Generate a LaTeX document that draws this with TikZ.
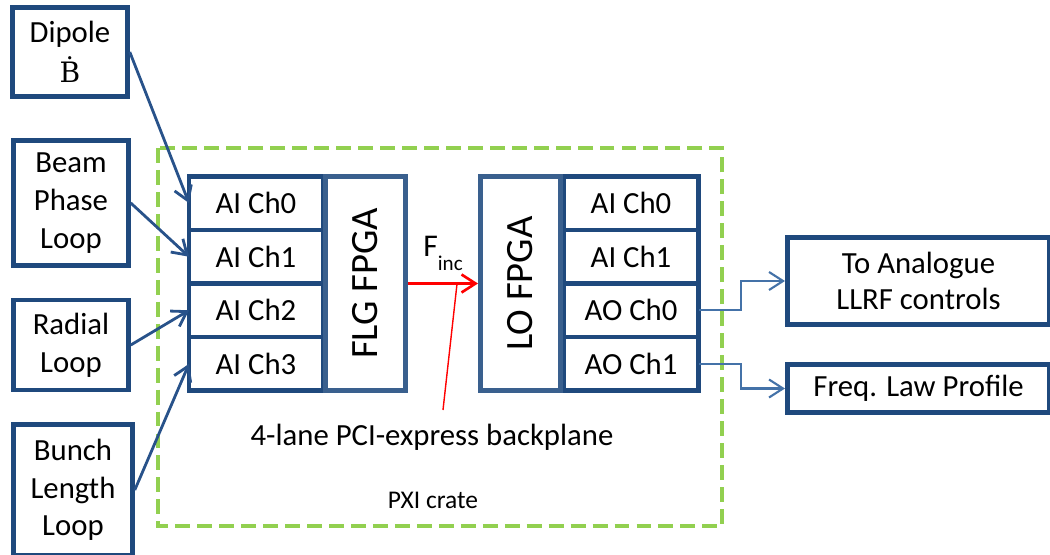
\documentclass[tikz,border=0pt]{standalone}
\usepackage{fontspec}
\setmainfont{Carlito}
\newfontfamily\bdotfont{DejaVu Serif}
\usetikzlibrary{arrows.meta,positioning}

\definecolor{boxblue}{RGB}{31,73,125}
\definecolor{fpgablue}{RGB}{58,96,142}
\definecolor{inwire}{RGB}{40,82,138}
\definecolor{outwire}{RGB}{68,114,168}
\definecolor{crategreen}{RGB}{146,208,80}

\tikzset{
  src/.style={draw=boxblue, line width=2.6pt, align=center, inner sep=0pt,
    minimum width=2.3cm, font=\fontsize{17.5}{21.5}\selectfont},
  chan/.style={draw=boxblue, line width=2.6pt, outer sep=0pt, inner sep=0pt,
    minimum width=2.68cm, minimum height=1.072cm, font=\fontsize{17.5}{20}\selectfont},
  fpga/.style={draw=fpgablue, fill=white, line width=2.6pt, rotate=90, inner sep=0pt,
    minimum width=4.29cm, minimum height=1.61cm, font=\fontsize{22}{26}\selectfont},
  dest/.style={draw=boxblue, line width=2.6pt, align=center, inner sep=0pt,
    minimum width=5.25cm, font=\fontsize{17.5}{20.5}\selectfont},
  feed/.style={->, draw=inwire, line width=1.6pt},
  lead/.style={->, draw=outwire, line width=1.2pt},
  crate/.style={draw=crategreen, line width=2pt, dash pattern=on 8.5pt off 4pt}
}

\begin{document}
\begin{tikzpicture}[x=0.02cm, y=-0.02cm, >={Straight Barb[length=2.8mm,width=3.6mm]}]
    \useasboundingbox (0,0) rectangle (1050,554);
    \clip (0,0) rectangle (1050,554);

    % PXI crate
    \draw [crate] (158,148) rectangle (722,526);

    % Signal sources
    \node [src, minimum height=1.78cm] (dipole) at (70,52)
        {Dipole\\[1pt] {\bdotfont\fontsize{16}{19}\selectfont Ḃ}};
    \node [src, minimum height=2.5cm]  (bpl)    at (71,203) {Beam\\Phase\\Loop};
    \node [src, minimum height=1.8cm]  (radial) at (71,345) {Radial\\Loop};
    \node [src, minimum height=2.62cm, minimum width=2.38cm] (bll) at (73,490) {Bunch\\Length\\Loop};

    % FLG side
    \node [chan] (ai0) at (256,203.1) {AI Ch0};
    \node [chan, below=0pt of ai0] (ai1) {AI Ch1};
    \node [chan, below=0pt of ai1] (ai2) {AI Ch2};
    \node [chan, below=0pt of ai2] (ai3) {AI Ch3};
    \node [fpga] (flg) at (365.5,283.5) {FLG FPGA};

    % LO side
    \node [chan, minimum width=2.71cm] (lai0) at (631,203.1) {AI Ch0};
    \node [chan, minimum width=2.71cm, below=0pt of lai0] (lai1) {AI Ch1};
    \node [chan, minimum width=2.71cm, below=0pt of lai1] (ao0)  {AO Ch0};
    \node [chan, minimum width=2.71cm, below=0pt of ao0]  (ao1)  {AO Ch1};
    \node [fpga] (lo) at (520.5,283.5) {LO FPGA};

    % Outputs
    \node [dest, minimum height=1.75cm] (llrf) at (918.5,281)   {To Analogue\\LLRF controls};
    \node [dest, minimum height=0.97cm] (law)  at (918.5,388.5) {Freq. Law Profile};

    % Labels
    \node [font=\fontsize{17.5}{20}\selectfont] (bp)  at (432,437) {4-lane PCI-express backplane};
    \node [font=\fontsize{14.5}{17}\selectfont] (pxi) at (433,500) {PXI crate};
    \coordinate (tip)  at (457,284);
    \coordinate (foot) at (443,410);

    % Paths
    \draw [feed] (dipole.east) -- (ai0.west);
    \draw [feed] (bpl.east)    -- (ai1.west);
    \draw [feed] (radial.east) -- (ai2.west);
    \draw [feed] (bll.east)    -- (ai3.west);

    \draw [->, red, line width=1.5pt] (flg) -- (lo)
        node [midway, above=3pt, text=black, font=\fontsize{18}{20}\selectfont]
        {F\raisebox{-0.45em}{\fontsize{12}{13}\selectfont inc}};
    \draw [red, line width=0.8pt] (foot) -- (tip);

    \draw [lead] (ao0.east) -- ++(42,0) |- (llrf.west);
    \draw [lead] (ao1.east) -- ++(42,0) |- (law.west);

\end{tikzpicture}
\end{document}
